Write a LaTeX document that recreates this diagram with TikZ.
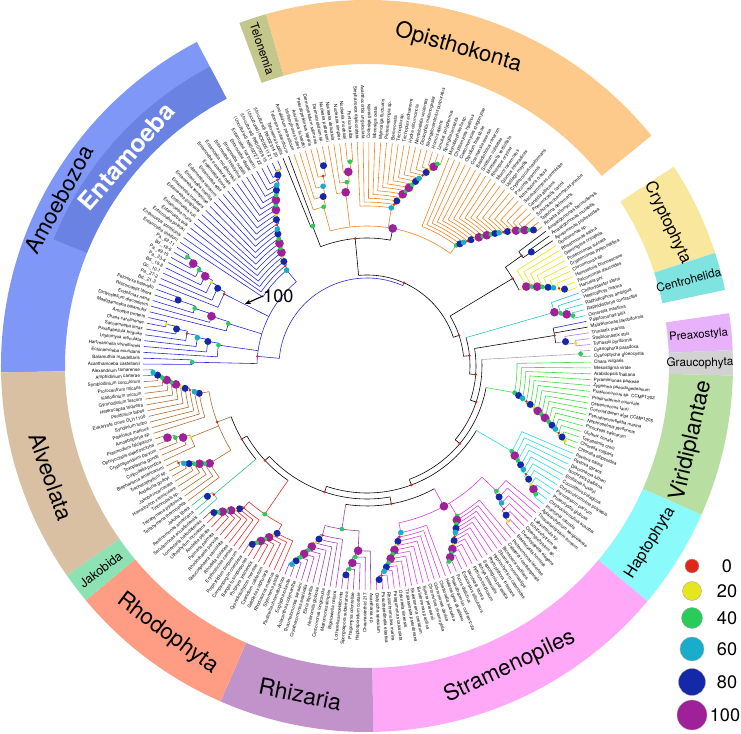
\documentclass[tikz,border=0pt]{standalone}
\usepackage{fontspec}
\setmainfont{TeX Gyre Heros}
\usetikzlibrary{arrows.meta}
\pgfdeclarelayer{bg}
\pgfsetlayers{bg,main}
\definecolor{cAmo}{HTML}{2626D9}
\definecolor{cOpi}{HTML}{F0821E}
\definecolor{cCry}{HTML}{F2E200}
\definecolor{cCen}{HTML}{22C4D6}
\definecolor{cPre}{HTML}{C46CF0}
\definecolor{cGla}{HTML}{A6A6A6}
\definecolor{cVir}{HTML}{3CDC3C}
\definecolor{cHap}{HTML}{22DCF0}
\definecolor{cStr}{HTML}{E03CDC}
\definecolor{cRhi}{HTML}{A03CB4}
\definecolor{cRho}{HTML}{E62828}
\definecolor{cJak}{HTML}{2EC27E}
\definecolor{cAlv}{HTML}{B06A2C}
\definecolor{bAmo}{HTML}{7F97F7}
\definecolor{bEnt}{HTML}{6A83E2}
\definecolor{bTel}{HTML}{C3C78B}
\definecolor{bOpi}{HTML}{FDCA8B}
\definecolor{bCry}{HTML}{FAE79E}
\definecolor{bCen}{HTML}{7FE3E0}
\definecolor{bPre}{HTML}{E7B2FA}
\definecolor{bGla}{HTML}{D2D2D2}
\definecolor{bVir}{HTML}{B9DEA2}
\definecolor{bHap}{HTML}{8AFAFA}
\definecolor{bStr}{HTML}{FFA8F8}
\definecolor{bRhi}{HTML}{C293CA}
\definecolor{bRho}{HTML}{FF9C84}
\definecolor{bJak}{HTML}{8CE2B2}
\definecolor{bAlv}{HTML}{D9C0A2}
\definecolor{d0}{HTML}{E0281A}
\definecolor{d1}{HTML}{E6E61E}
\definecolor{d2}{HTML}{28CC5A}
\definecolor{d3}{HTML}{18AECB}
\definecolor{d4}{HTML}{1428A8}
\definecolor{d5}{HTML}{A0209A}
\tikzset{
  tb/.style={line width=0.5pt,black},
  amo/.style={line width=0.5pt,cAmo},
  opi/.style={line width=0.5pt,cOpi},
  cry/.style={line width=0.5pt,cCry},
  cen/.style={line width=0.5pt,cCen},
  pre/.style={line width=0.5pt,cPre},
  gla/.style={line width=0.5pt,cGla},
  vir/.style={line width=0.5pt,cVir},
  hap/.style={line width=0.5pt,cHap},
  str/.style={line width=0.5pt,cStr},
  rhi/.style={line width=0.5pt,cRhi},
  rho/.style={line width=0.5pt,cRho},
  jak/.style={line width=0.5pt,cJak},
  alv/.style={line width=0.5pt,cAlv},
  bs/.style={circle,inner sep=0pt},
  bs0/.style={bs,fill=d0,minimum size=2.4pt},
  bs1/.style={bs,fill=d1,minimum size=3.2pt},
  bs2/.style={bs,fill=d2,minimum size=4pt},
  bs3/.style={bs,fill=d3,minimum size=4.8pt},
  bs4/.style={bs,fill=d4,minimum size=6pt},
  bs5/.style={bs,fill=d5,minimum size=7.4pt},
  lab/.style={font=\fontsize{3.9}{4.5}\selectfont,inner sep=0pt},
  clade/.style={inner sep=0pt,font=\fontsize{19}{19}\selectfont},
  lg/.style={circle,inner sep=0pt,draw=black!35,line width=0.3pt},
  lgt/.style={font=\fontsize{15.5}{16}\selectfont}
}
\newcommand{\band}[5]{\fill[#1] (#2:#4) arc[start angle=#2,end angle=#3,radius=#4] -- (#3:#5) arc[start angle=#3,end angle=#2,radius=#5] -- cycle;}
\newcommand{\ladder}[6]{%
  \pgfmathsetmacro{\Ltl}{179.5-1.5*#3}%
  \pgfmathsetmacro{\Lpf}{179.5-0.75*(#2+#3)}%
  \ifnum#2=#3\relax
    \begin{pgfonlayer}{bg}\draw[#1] (\Ltl:#4) -- (\Ltl:224);\end{pgfonlayer}%
  \else
    \begin{pgfonlayer}{bg}\draw[#1] (\Lpf:#4) -- (\Lpf:#5);\end{pgfonlayer}%
    \pgfmathtruncatemacro{\Lkl}{#3-1}%
    \pgfmathsetmacro{\Ldr}{(#6-#5)/max(#3-#2-1,1)}%
    \foreach \k in {#2,...,\Lkl}{%
      \pgfmathsetmacro{\Ltk}{179.5-1.5*\k}%
      \pgfmathsetmacro{\Lrk}{#5+(\k-#2)*\Ldr}%
      \pgfmathsetmacro{\Lrn}{\Lrk+\Ldr}%
      \pgfmathsetmacro{\Lpk}{(\Ltk+\Ltl)/2}%
      \pgfmathsetmacro{\Lpn}{\k==\Lkl ? \Ltl : (179.5-1.5*(\k+1)+\Ltl)/2}%
      \pgfmathtruncatemacro{\Lv}{mod(\k*5+2,9)}%
      \begin{pgfonlayer}{bg}
        \draw[#1] (\Ltk:\Lrk) arc[start angle=\Ltk,end angle=\Lpn,radius=\Lrk];
        \draw[#1] (\Ltk:\Lrk) -- (\Ltk:224);
        \ifnum\k<\Lkl \draw[#1] (\Lpn:\Lrk) -- (\Lpn:\Lrn);
        \else \draw[#1] (\Ltl:\Lrk) -- (\Ltl:224); \fi
      \end{pgfonlayer}
      \ifcase\Lv \def\Lc{bs0}\or \def\Lc{bs1}\or \def\Lc{bs2}\or \def\Lc{bs2}\or \def\Lc{bs3}\or \def\Lc{bs4}\or \def\Lc{bs5}\or \def\Lc{bs5}\or \def\Lc{bs4}\fi
      \node[\Lc] (n\k) at (\Lpk:\Lrk) {};
    }%
  \fi}
\begin{document}
\begin{tikzpicture}[x=0.3mm,y=0.3mm]
\useasboundingbox (-367,-368) rectangle (374,366);
% outer ring
\band{bAmo}{117.7}{181}{302}{366}
\band{bEnt}{117.7}{158}{302}{338}
\band{bTel}{106}{110.4}{302}{366}
\band{bOpi}{39}{106}{302}{366}
\band{bCry}{18}{33}{302}{366}
\band{bCen}{12}{18}{302}{366}
\band{bPre}{2.5}{8.3}{302}{366}
\band{bGla}{-1.5}{2.5}{302}{366}
\band{bVir}{-24}{-1.5}{302}{366}
\band{bHap}{-40}{-24}{302}{366}
\band{bStr}{-89}{-40}{302}{366}
\band{bRhi}{-113.6}{-89}{302}{366}
\band{bRho}{-140.2}{-113.6}{302}{366}
\band{bJak}{-145.1}{-140.2}{302}{366}
\band{bAlv}{-179}{-145.1}{302}{366}
\node[clade,rotate=61.6] (tAmo) at (151.6:350) {Amoebozoa};
\node[clade,rotate=49,text=white,font=\fontsize{21}{21}\selectfont\bfseries] (tEnt) at (139:319) {Entamoeba};
\node[clade,rotate=-71.6,font=\fontsize{10}{10}\selectfont] (tTel) at (108.3:334) {Telonemia};
\node[clade,rotate=-16] (tOpi) at (74:331) {Opisthokonta};
\node[clade,rotate=-64.5,font=\fontsize{14}{14}\selectfont] (tCry) at (25.5:333) {Cryptophyta};
\node[clade,rotate=15,font=\fontsize{10}{10}\selectfont] (tCen) at (15:333) {Centrohelida};
\node[clade,rotate=5,font=\fontsize{9.7}{10}\selectfont] (tPre) at (5.3:333) {Preaxostyla};
\node[clade,rotate=0.5,font=\fontsize{10}{10}\selectfont] (tGla) at (0.5:333) {Graucophyta};
\node[clade,rotate=77] (tVir) at (-13:333) {Viridiplantae};
\node[clade,rotate=58,font=\fontsize{13.5}{14}\selectfont] (tHap) at (-32:334) {Haptophyta};
\node[clade,rotate=25.4] (tStr) at (-64.6:333) {Stramenopiles};
\node[clade,rotate=-11.5,font=\fontsize{19.5}{20}\selectfont] (tRhi) at (-101.5:335) {Rhizaria};
\node[clade,rotate=-36.7] (tRho) at (-126.7:334) {Rhodophyta};
\node[clade,rotate=37.4,font=\fontsize{10.7}{11}\selectfont] (tJak) at (-142.6:335) {Jakobida};
\node[clade,rotate=-70.7] (tAlv) at (-160.7:335) {Alveolata};
% backbone
\begin{pgfonlayer}{bg}
\draw[tb] (95.3:91) arc[start angle=95.3,end angle=18.4,radius=91];
\draw[tb] (95.3:91) -- (95.3:128);
\draw[tb] (111.25:128) arc[start angle=111.25,end angle=79.4,radius=128];
\draw[tb] (79.4:128) -- (79.4:140);
\draw[opi] (105.25:140) arc[start angle=105.25,end angle=53.5,radius=140];
\draw[amo] (66:91) -- (66:88) arc[start angle=66,end angle=175,radius=88] -- (175:110);
\draw[amo] (178.75:110) arc[start angle=178.75,end angle=130,radius=110];
\draw[tb] (18.4:91) -- (18.4:97);
\draw[tb] (31:97) arc[start angle=31,end angle=5.75,radius=97];
\draw[tb] (31:97) -- (31:170);
\draw[tb] (35.5:170) arc[start angle=35.5,end angle=26.5,radius=170];
\draw[tb] (5.75:97) -- (5.75:103);
\draw[tb] (16:103) arc[start angle=16,end angle=-4.5,radius=103];
\draw[tb] (-4.5:103) -- (-4.5:109);
\draw[tb] (9.25:109) arc[start angle=9.25,end angle=-18.3,radius=109];
\draw[tb] (9.25:109) -- (9.25:190);
\draw[tb] (11.5:190) arc[start angle=11.5,end angle=7,radius=190];
\draw[amo] (11.5:190) -- (11.5:224);
\draw[tb] (10:190) -- (10:224);
\draw[tb] (-18.3:109) -- (-18.3:115);
\draw[tb] (3.25:115) arc[start angle=3.25,end angle=-39.9,radius=115];
\draw[tb] (-39.9:115) -- (-39.9:121);
\draw[tb] (-10.25:121) arc[start angle=-10.25,end angle=-69.55,radius=121];
\draw[tb] (-69.55:121) -- (-69.55:127);
\draw[tb] (-30.5:127) arc[start angle=-30.5,end angle=-108.6,radius=127];
\draw[tb] (-108.6:127) -- (-108.6:133);
\draw[tb] (-80:133) arc[start angle=-80,end angle=-137.2,radius=133];
\draw[tb] (-80:133) -- (-80:140);
\draw[tb] (-61.25:140) arc[start angle=-61.25,end angle=-98.75,radius=140];
\draw[str] (-61.25:140) -- (-61.25:160);
\draw[str] (-44:160) arc[start angle=-44,end angle=-78.5,radius=160];
\draw[rhi] (-98.75:140) -- (-98.75:165);
\draw[rhi] (-92.75:165) arc[start angle=-92.75,end angle=-104.75,radius=165];
\draw[tb] (-137.2:133) -- (-137.2:139);
\draw[tb] (-124.6:139) arc[start angle=-124.6,end angle=-149.75,radius=139];
\draw[rho] (-124.6:139) -- (-124.6:180);
\draw[rho] (-118.25:180) arc[start angle=-118.25,end angle=-131,radius=180];
\draw[tb] (-149.75:139) -- (-149.75:145);
\draw[tb] (-140:145) arc[start angle=-140,end angle=-159.5,radius=145];
\draw[alv] (-159.5:145) -- (-159.5:160);
\draw[alv] (-148.25:160) arc[start angle=-148.25,end angle=-170.75,radius=160];
\end{pgfonlayer}
% clades
\ladder{amo}{0}{1}{110}{175}{175}
\ladder{amo}{2}{8}{110}{150}{205}
\ladder{amo}{9}{13}{110}{145}{200}
\ladder{amo}{14}{21}{110}{160}{210}
\ladder{amo}{22}{44}{110}{125}{215}
\ladder{tb}{45}{46}{128}{150}{150}
\ladder{opi}{47}{52}{140}{165}{205}
\ladder{opi}{53}{57}{140}{175}{205}
\ladder{opi}{58}{73}{140}{160}{214}
\ladder{opi}{74}{94}{140}{150}{215}
\ladder{tb}{95}{97}{170}{190}{200}
\ladder{cry}{98}{106}{170}{178}{212}
\ladder{cen}{107}{111}{103}{195}{212}
\ladder{pre}{114}{116}{190}{200}{210}
\ladder{gla}{117}{118}{115}{214}{214}
\ladder{vir}{119}{134}{121}{150}{212}
\ladder{hap}{135}{145}{127}{168}{212}
\ladder{str}{146}{152}{160}{180}{210}
\ladder{str}{153}{165}{160}{175}{212}
\ladder{str}{166}{178}{160}{170}{214}
\ladder{rhi}{179}{184}{165}{185}{210}
\ladder{rhi}{185}{194}{165}{175}{212}
\ladder{rho}{195}{202}{180}{190}{212}
\ladder{rho}{203}{211}{180}{188}{212}
\ladder{jak}{212}{214}{145}{200}{206}
\ladder{alv}{215}{222}{160}{185}{212}
\ladder{alv}{223}{227}{160}{190}{212}
\ladder{alv}{228}{239}{160}{170}{214}
\foreach \p/\nm/\s in {66:91/r0/bs0,18.4:97/b1/bs0,5.75:103/b2/bs0,-4.5:109/b3/bs0,-18.3:115/b4/bs0,-39.9:121/b5/bs0,-69.55:127/b6/bs0,-108.6:133/b7/bs0,-137.2:139/b8/bs0,-149.75:145/b9/bs0,95.3:128/oba/bs0,175:110/amr/bs0,79.4:140/opr/bs5,31:170/car/bs0,9.25:190/pmp/bs0,-80:140/sar/bs0,-61.25:160/str/bs5,-98.75:165/rhr/bs2,-124.6:180/rhor/bs2,-159.5:160/alr/bs0}
  \node[\s] (\nm) at (\p) {};
% leaf names
\foreach \nm [count=\i from 0] in {Acanthamoeba castellanii,Balamuthia mandrillaris,Echinamoeba exundans,Hartmannella vermiformis,Leptomyxa reticulata,Paraflabellula hoguae,Saccamoeba limax,Chaos carolinense,Amoeba proteus,Mastigamoeba balamuthi,Dictyostelium discoideum,Endolimax nana,Rhizomastix libera,Pelomyxa belevskii,Bd.\_21-3,Pa.\_27-2,Gc.\_10-1,Bd.\_18-8,Pa.\_33-4,Pa.\_49-15,Bd.\_18-6,Pa.\_62-11,Entamoeba chattoni,Entamoeba struthionis,Entamoeba polecki,Entamoeba suis,Entamoeba muris,Entamoeba coli,Entamoeba gingivalis,Entamoeba invadens,Entamoeba terrapinae,Entamoeba insolita,Entamoeba ranarum,Entamoeba equi,Entamoeba bovis,Entamoeba ecuadoriensis,Entamoeba moshkovskii,Entamoeba histolytica,Entamoeba nuttalli,Entamoeba dispar,Entamoeba hartmanni,{(Uncultured) NK002727 22},{(Uncultured) RK007009 19},{(Uncultured) NO000511 21},{(Uncultured) RK002314 20},Telonema subtilis,Telonema antarcticum,Amoebidium parasiticum,Ichthyophonus hoferi,Anurofeca richardsi,Pseudoperkinsus tapetis,Dermocystidium salmonis,Dermocystidium sp.,Nuclearia pattersoni,Nuclearia delicatula,Nuclearia simplex,Nuclearia moebiusi,Fonticula alba,Stephanoeca diplocostata,Acanthocorbis unguiculata,Codosiga gracilis,Monosiga ovata,Mylnosiga fluctuans,Proterospongia sp.,Beroe ovata,Trichoplax sp.,Trichoplax adhaerens,Hydra circumcincta,Nematostella vectensis,Drosophila melanogaster,Strongylocentrotus purpuratus,Homo sapiens,Limulus polyphemus,Spongilla lacustris,Monoblepharella sp.,Chytriomyces hyalinus,Coelomomyces stegomyiae,Olpidium brassicae,Coemansia reversa,Basidiobolus ranarum,Smittium culisetae,Mortierella verticillata,Rhizopus oryzae,Mucor racemosus,Glomus intraradices,Ustilago maydis,Cryptococcus neoformans,Puccinia graminis,Neurospora crassa,Saccharomyces cerevisiae,Candida albicans,Pneumocystis carinii,Schizosaccharomyces pombe,Taphrina deformans,Rozella allomycis,Amastigomonas bermudensis,Amastigomonas mutabilis,Apusomonas proboscidea,Goniomonas sp.,Rhodomonas salina,Geminigera cryophila,Proteomonas sulcata,Cryptomonas pyrenoidifera,Chroomonas sp.,Hemiselmis brunnescens,Falcomonas daucoides,Hanusia phi,Chlamydaster sterni,Heterophrys marina,Raphidiophrys ambigua,Raphidiophrys contractilis,Oxnerella maritima,Palpitomonas bilix,Malawimonas jakobiformis,Trimastix marina,Streblomastix strix,Trimastix pyriformis,Cyanophora paradoxa,Cyanoptyche gloeocystis,Chara vulgaris,Mesostigma viride,Arabidopsis thaliana,Pyramimonas parkeae,Zygnema pseudogedeanum,Prasinococcus sp. CCMP1202,Prasinoderma coloniale,Ostreococcus tauri,Coccoid green alga CCMP1205,Pseudoscourfieldia marina,Nephroselmis pyriformis,Picocystis salinarum,Ulothrix zonata,Tetraselmis chuii,Chlorella vulgaris,Chlorella ellipsoidea,Pavlova salina,Pavlova gyrans,Diacronema lutheri,Isochrysis galbana,Emiliania huxleyi,Coccolithus pelagicus,Chrysochromulina polylepis,Prymnesium parvum,Phaeocystis globosa,Chrysochromulina acantha,Imantonia rotunda,Aplanochytrium kerguelense,Thraustochytrium aureum,Labyrinthula sp.,Schizochytrium sp.,Oblongichytrium sp.,Developayella elegans,Blastocystis hominis,Proteromonas lacertae,Cafeteria roenbergensis,Bicosoeca vacillans,Siluania monomastiga,Hyphochytrium catenoides,Phytophthora infestans,Saprolegnia parasitica,Achlya bisexualis,Pythium insidiosum,Vaucheria litorea,Ectocarpus siliculosus,Fucus distichus,Phaeothamnion confervicola,Heterosigma akashiwo,Chattonella subsalsa,Ochromonas danica,Chromulina chromophila,Synura petersenii,Bolidomonas pacifica,Skeletonema costatum,Thalassiosira pseudonana,Odontella sinensis,Pelagomonas calceolata,Rhizochromulina marina,Pseudopedinella elastica,Dictyocha speculum,Acantharea sp.,Chaunacanthid 217,Haplosporidium costale,Phagomyxa odontellae,Spongospora subterranea,Lotharella amoebiformis,Bigelowiella natans,Metromonas simplex,Cercomonas longicauda,Heteromita globosa,Ebria tripartita,Cryothecomonas aestivalis,Thaumatomonas seravini,Aulacantha scolymantha,Euglypha rotunda,Paulinella chromatophora,Stylonema alsidii,Rhodosorus marinus,Galdieria sulphuraria,Cyanidium caldarium,Cyanidioschyzon merolae,Porphyra yezoensis,Bangia fuscopurpurea,Compsopogon coeruleus,Porphyridium purpureum,Erythrotrichia carnea,Rhodella violacea,Glaucosphaera vacuolata,Rhodochaete parvula,Palmaria palmata,Ahnfeltia plicata,Lithophyllum incrustans,Lomentaria hakodatensis,Seculamonas ecuadoriensis,Reclinomonas americana,Jakoba libera,Tetrahymena thermophila,Tetrahymena pyriformis,Tintinnopsis sp.,Homalozoon vermiculare,Jakoba incarcerata,Andalucia godoyi,Trachelophyllum sp.,Blepharisma americanum,Colpodella pontica,Toxoplasma gondii,Cryptosporidium parvum,Ophryocystis elektroscirrha,Plasmodium falciparum,Amoebophrya sp.,Perkinsus marinus,Syndinium turbo,Eukaryote clone OLI11100,Peridinium bipes,Heterocapsa triquetra,Gymnodinium fuscum,Karlodinium micrum,Prorocentrum micans,Symbiodinium corculorum,Amphidinium carterae,Alexandrium tamarense}{
  \pgfmathsetmacro{\Ta}{179.5-1.5*\i}
  \pgfmathsetmacro{\Rot}{\Ta>90 ? \Ta-180 : (\Ta<-90 ? \Ta+180 : \Ta)}
  \pgfmathtruncatemacro{\Sd}{or(\Ta>90,\Ta<-90)}
  \ifnum\Sd=1 \def\Anc{east}\else\def\Anc{west}\fi
  \node[lab,rotate=\Rot,anchor=\Anc] (l\i) at (\Ta:227) {\nm};
}
% legend
\node[lg,fill=d0,minimum size=11.9pt] (k0) at (325,-200) {};
\node[lg,fill=d1,minimum size=16.2pt] (k1) at (325,-225) {};
\node[lg,fill=d2,minimum size=17.9pt] (k2) at (325,-252) {};
\node[lg,fill=d3,minimum size=20.5pt] (k3) at (325,-283) {};
\node[lg,fill=d4,minimum size=23pt] (k4) at (325,-316) {};
\node[lg,fill=d5,minimum size=25.6pt] (k5) at (325,-349) {};
\node[lgt] (v0) at (360,-200) {0};
\node[lgt] (v1) at (360,-225) {20};
\node[lgt] (v2) at (360,-252) {40};
\node[lgt] (v3) at (360,-283) {60};
\node[lgt] (v4) at (360,-316) {80};
\node[lgt] (v5) at (358,-349) {100};
% marker
\node[lgt,anchor=west,inner sep=0pt] (t100) at (-104,70) {100};
\coordinate (a100) at (-122,62);
\draw[-{Stealth[length=5pt,width=4pt]},line width=1pt] (t100.west) -- (a100);
\end{tikzpicture}
\end{document}
